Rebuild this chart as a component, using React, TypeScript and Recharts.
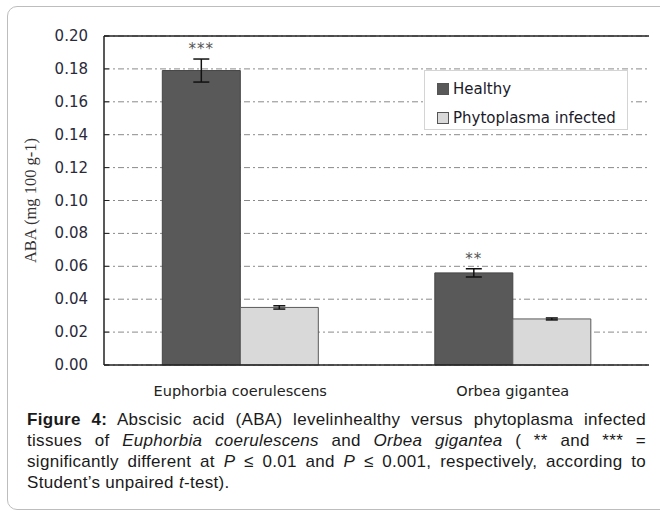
import React from 'react';
import {
  BarChart,
  Bar,
  XAxis,
  YAxis,
  CartesianGrid,
  ErrorBar,
  LabelList,
  Legend,
  ReferenceLine,
} from 'recharts';

// values
const categories = ['Euphorbia coerulescens', 'Orbea gigantea'];
const healthy = [0.179, 0.056];
const healthyErr = [0.007, 0.0025];
const infected = [0.035, 0.028];
const infectedErr = [0.001, 0.0006];
const significance = ['***', '**'];
const yTicks = [0, 0.02, 0.04, 0.06, 0.08, 0.1, 0.12, 0.14, 0.16, 0.18, 0.2];

const data = categories.map((name, i) => ({
  name,
  Healthy: healthy[i],
  healthyErr: healthyErr[i],
  'Phytoplasma infected': infected[i],
  infectedErr: infectedErr[i],
  sig: significance[i],
}));

const axisFont = '"DejaVu Sans", Verdana, sans-serif';

const YTick = (props: any) => {
  const { x, y, payload } = props;
  return (
    <g>
      <text
        x={x}
        y={y}
        textAnchor="end"
        dominantBaseline="central"
        fontSize={15}
        fill="#2a2a3a"
        fontFamily={axisFont}
      >
        {Number(payload.value).toFixed(2)}
      </text>
      <line x1={x + 16} x2={x + 21} y1={y} y2={y} stroke="#222" strokeWidth={1} />
    </g>
  );
};

const SigLabel = (props: any) => {
  const { x, y, width, height, index, value } = props;
  const d = data[index];
  const pxPerUnit = height / d.Healthy;
  const errTop = y - d.healthyErr * pxPerUnit;
  return (
    <text
      x={x + width / 2}
      y={errTop - 5}
      textAnchor="middle"
      fontSize={15}
      fill="#555"
      letterSpacing={1}
      fontFamily={axisFont}
    >
      {value}
    </text>
  );
};

const LegendBox = (props: any) => {
  const items = props.payload || [];
  return (
    <div
      style={{
        width: 204,
        height: 60,
        boxSizing: 'border-box',
        border: '1px solid #d4d4d4',
        background: '#fff',
        padding: '3px 0 0 12px',
        fontFamily: axisFont,
        fontSize: 15,
        color: '#1a1a2a',
      }}
    >
      {items.map((it: any) => (
        <div key={it.value} style={{ display: 'flex', alignItems: 'center', height: 29 }}>
          <span
            style={{
              display: 'inline-block',
              width: 10,
              height: 10,
              background: it.color,
              border: '1px solid #555',
              marginRight: 4,
            }}
          />
          <span>{it.value}</span>
        </div>
      ))}
    </div>
  );
};

const captionLines = [
  <>
    <b>Figure 4:</b> Abscisic acid (ABA) levelinhealthy versus phytoplasma infected
  </>,
  <>
    tissues of <i>Euphorbia coerulescens</i> and <i>Orbea gigantea</i> ( ** and *** =
  </>,
  <>
    significantly different at <i>P</i> ≤ 0.01 and <i>P</i> ≤ 0.001, respectively, according to
  </>,
  <>
    Student’s unpaired <i>t</i>-test).
  </>,
];

export default function App() {
  return (
    <div
      style={{
        position: 'absolute',
        left: 0,
        top: 0,
        width: 660,
        height: 512,
        background: '#fff',
        overflow: 'hidden',
      }}
    >
      {/* rounded figure frame */}
      <div
        style={{
          position: 'absolute',
          left: 7,
          top: 6,
          width: 700,
          height: 504,
          boxSizing: 'border-box',
          border: '1px solid #bdbdbd',
          borderRadius: 10,
        }}
      />
      <div style={{ position: 'absolute', left: 0, top: 0 }}>
        <BarChart
          width={660}
          height={512}
          data={data}
          margin={{ top: 36, right: 11, left: 0, bottom: 0 }}
          barGap={0}
          barCategoryGap="21.4%"
        >
          <CartesianGrid vertical={false} stroke="#8a8a8a" strokeDasharray="6 3 2 3" />
          <XAxis
            dataKey="name"
            height={147}
            tickSize={0}
            tickMargin={21}
            axisLine={{ stroke: '#222', strokeWidth: 1.5 }}
            tick={{ fontSize: 14.5, fill: '#222', fontFamily: axisFont }}
          />
          <YAxis
            width={104}
            domain={[0, 0.2]}
            ticks={yTicks}
            interval={0}
            tickSize={0}
            tickMargin={16}
            tick={<YTick />}
            axisLine={{ stroke: '#222', strokeWidth: 1.5 }}
            label={{
              content: (p: any) => {
                const vb = p.viewBox;
                const cx = 30;
                const cy = vb.y + vb.height / 2;
                return (
                  <text
                    x={cx}
                    y={cy}
                    transform={`rotate(-90 ${cx} ${cy})`}
                    textAnchor="middle"
                    dominantBaseline="central"
                    fontSize={16.5}
                    fill="#333"
                    fontFamily='"Liberation Serif", "Times New Roman", serif'
                  >
                    ABA (mg 100 g-1)
                  </text>
                );
              },
            }}
          />
          <YAxis
            yAxisId="frame"
            orientation="right"
            width={0}
            domain={[0, 0.2]}
            tick={false}
            tickLine={false}
            axisLine={{ stroke: '#222', strokeWidth: 1.5 }}
          />
          <ReferenceLine y={0.2} stroke="#222" strokeWidth={1.5} />
          <Legend
            layout="vertical"
            align="center"
            verticalAlign="middle"
            content={<LegendBox />}
            wrapperStyle={{ left: 424, top: 70, width: 204, height: 60 }}
          />
          <Bar
            dataKey="Healthy"
            fill="#595959"
            stroke="#454545"
            strokeWidth={1}
            isAnimationActive={false}
          >
            <ErrorBar dataKey="healthyErr" width={8} stroke="#111" strokeWidth={1.5} />
            <LabelList dataKey="sig" content={<SigLabel />} />
          </Bar>
          <Bar
            dataKey="Phytoplasma infected"
            fill="#d9d9d9"
            stroke="#5a5a5a"
            strokeWidth={1}
            isAnimationActive={false}
          >
            <ErrorBar dataKey="infectedErr" width={6} stroke="#111" strokeWidth={1.5} />
          </Bar>
        </BarChart>
      </div>
      <div
        style={{
          position: 'absolute',
          left: 27,
          top: 409,
          width: 619,
          fontFamily: '"Liberation Sans", Arial, sans-serif',
          fontSize: 17,
          lineHeight: '21px',
          letterSpacing: 0.3,
          color: '#1a1a1a',
        }}
      >
        {captionLines.map((line, i) => (
          <div
            key={i}
            style={{
              textAlign: 'justify',
              textAlignLast: i < captionLines.length - 1 ? 'justify' : 'left',
              whiteSpace: 'nowrap',
            }}
          >
            {line}
          </div>
        ))}
      </div>
    </div>
  );
}
